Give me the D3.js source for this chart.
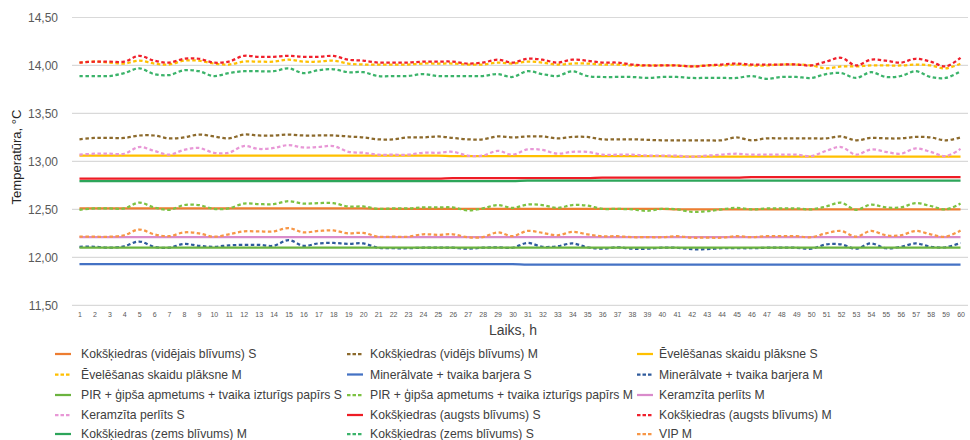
<!DOCTYPE html>
<html>
<head>
<meta charset="utf-8">
<script src="https://cdn.jsdelivr.net/npm/d3@7/dist/d3.min.js"></script>
<style>
  html, body { margin: 0; padding: 0; background: #fff; }
  svg { display: block; font-family: "Liberation Sans", Arial, sans-serif; }
</style>
</head>
<body>
<svg id="chart" width="970" height="440"></svg>
<script>
// Hours on the x axis
const hours = d3.range(1, 61);

// Y axis ticks
const yTicks = [11.5, 12.0, 12.5, 13.0, 13.5, 14.0, 14.5];

// Temperature series, °C, one value per hour
const videjaisS = [12.51,12.51,12.51,12.51,12.51,12.51,12.51,12.51,12.51,12.51,12.51,12.51,12.51,12.51,12.51,12.51,12.51,12.51,12.51,12.51,
  12.505,12.505,12.505,12.505,12.505,12.505,12.505,12.505,12.505,12.505,12.505,12.505,12.505,12.505,12.505,12.505,12.505,12.505,12.505,12.505,
  12.50,12.50,12.50,12.50,12.50,12.50,12.50,12.50,12.50,12.50,12.50,12.50,12.50,12.50,12.50,12.50,12.50,12.50,12.50,12.50];
const videjsM = [13.23,13.245,13.245,13.245,13.27,13.27,13.24,13.25,13.28,13.26,13.24,13.28,13.27,13.27,13.28,13.27,13.27,13.27,13.26,13.25,
  13.23,13.23,13.25,13.25,13.26,13.245,13.23,13.23,13.26,13.25,13.26,13.26,13.24,13.255,13.255,13.23,13.23,13.23,13.225,13.22,
  13.22,13.22,13.22,13.22,13.25,13.22,13.24,13.24,13.24,13.24,13.24,13.26,13.22,13.245,13.24,13.24,13.255,13.25,13.22,13.25];
const evelesanasS = [13.06,13.06,13.06,13.06,13.06,13.06,13.06,13.06,13.06,13.06,13.06,13.06,13.06,13.06,13.06,13.06,13.06,13.06,13.06,13.06,
  13.06,13.06,13.06,13.06,13.06,13.055,13.055,13.055,13.055,13.055,13.055,13.055,13.055,13.055,13.055,13.055,13.055,13.055,13.055,13.055,
  13.05,13.05,13.05,13.05,13.05,13.05,13.05,13.05,13.05,13.05,13.05,13.05,13.05,13.05,13.05,13.05,13.05,13.05,13.05,13.05];
const evelesanasM = [14.03,14.04,14.03,14.02,14.05,14.02,14.01,14.05,14.05,14.02,14.01,14.04,14.04,14.04,14.06,14.04,14.04,14.05,14.02,14.01,
  14.01,14.01,14.01,14.02,14.02,14.02,14.01,14.01,14.03,14.02,14.04,14.03,14.01,14.02,14.02,14.01,14.01,14.00,14.00,14.00,
  14.00,13.99,14.00,14.00,14.01,14.00,14.00,14.01,14.01,14.00,13.97,13.99,13.99,14.00,14.00,14.00,14.01,14.00,13.97,14.02];
const mineralvateS = [11.93,11.93,11.93,11.93,11.93,11.93,11.93,11.93,11.93,11.93,11.93,11.93,11.93,11.93,11.93,11.93,11.93,11.93,11.93,11.93,
  11.93,11.93,11.93,11.93,11.93,11.93,11.93,11.93,11.93,11.93,11.925,11.925,11.925,11.925,11.925,11.925,11.925,11.925,11.925,11.925,
  11.925,11.925,11.925,11.925,11.925,11.925,11.925,11.925,11.925,11.925,11.925,11.925,11.925,11.925,11.925,11.925,11.925,11.925,11.925,11.925];
const mineralvateM = [12.11,12.11,12.10,12.115,12.165,12.11,12.10,12.14,12.12,12.11,12.125,12.13,12.13,12.12,12.18,12.12,12.145,12.15,12.14,12.145,
  12.10,12.095,12.095,12.10,12.10,12.10,12.09,12.10,12.105,12.10,12.15,12.11,12.115,12.145,12.105,12.09,12.105,12.09,12.09,12.10,
  12.10,12.085,12.085,12.095,12.095,12.095,12.10,12.10,12.10,12.09,12.135,12.135,12.09,12.145,12.095,12.11,12.145,12.11,12.105,12.15];
const pirS = [12.10,12.10,12.10,12.10,12.10,12.10,12.10,12.10,12.10,12.10,12.10,12.10,12.10,12.10,12.10,12.10,12.10,12.10,12.10,12.10,
  12.10,12.10,12.10,12.10,12.10,12.10,12.10,12.10,12.10,12.10,12.10,12.10,12.10,12.10,12.10,12.10,12.10,12.10,12.10,12.10,
  12.10,12.10,12.10,12.10,12.10,12.10,12.10,12.10,12.10,12.10,12.10,12.10,12.10,12.10,12.10,12.10,12.10,12.10,12.10,12.10];
const pirM = [12.495,12.51,12.51,12.51,12.57,12.52,12.495,12.545,12.545,12.505,12.51,12.56,12.555,12.555,12.585,12.56,12.565,12.565,12.53,12.53,
  12.505,12.51,12.51,12.52,12.52,12.52,12.49,12.51,12.545,12.515,12.55,12.545,12.515,12.545,12.54,12.505,12.505,12.50,12.485,12.505,
  12.50,12.475,12.48,12.50,12.515,12.50,12.51,12.51,12.51,12.50,12.53,12.57,12.495,12.55,12.52,12.52,12.565,12.535,12.50,12.56];
const keramzitaM = [12.21,12.21,12.21,12.21,12.21,12.21,12.21,12.21,12.21,12.21,12.21,12.21,12.21,12.21,12.21,12.21,12.21,12.21,12.21,12.21,
  12.21,12.21,12.21,12.21,12.21,12.21,12.21,12.21,12.21,12.21,12.21,12.21,12.21,12.21,12.21,12.21,12.21,12.21,12.21,12.21,
  12.21,12.21,12.21,12.21,12.21,12.21,12.21,12.21,12.21,12.21,12.21,12.21,12.21,12.21,12.21,12.21,12.21,12.21,12.21,12.21];
const keramzitaS = [13.07,13.08,13.08,13.08,13.15,13.11,13.07,13.12,13.14,13.09,13.09,13.16,13.13,13.14,13.17,13.145,13.15,13.16,13.10,13.09,
  13.07,13.07,13.07,13.09,13.09,13.10,13.06,13.06,13.11,13.07,13.125,13.12,13.08,13.10,13.10,13.07,13.07,13.07,13.06,13.06,
  13.06,13.05,13.06,13.07,13.08,13.07,13.07,13.07,13.07,13.055,13.11,13.15,13.07,13.125,13.10,13.08,13.135,13.10,13.055,13.13];
const augstsS = [12.82,12.82,12.82,12.82,12.82,12.82,12.82,12.82,12.82,12.82,12.82,12.82,12.82,12.82,12.82,12.82,12.82,12.82,12.82,12.82,
  12.82,12.82,12.82,12.82,12.82,12.825,12.825,12.825,12.825,12.825,12.825,12.825,12.825,12.825,12.825,12.83,12.83,12.83,12.83,12.83,
  12.83,12.83,12.83,12.83,12.83,12.835,12.835,12.835,12.835,12.835,12.835,12.835,12.835,12.835,12.835,12.835,12.835,12.835,12.835,12.835];
const augstsM = [14.03,14.04,14.04,14.04,14.10,14.05,14.03,14.07,14.07,14.03,14.04,14.10,14.09,14.09,14.10,14.09,14.09,14.10,14.06,14.05,
  14.03,14.03,14.03,14.04,14.04,14.04,14.02,14.03,14.06,14.03,14.07,14.06,14.03,14.06,14.05,14.03,14.03,14.01,14.00,14.00,
  14.00,13.99,14.00,14.01,14.02,14.01,14.01,14.01,14.01,14.00,14.04,14.08,14.00,14.06,14.05,14.03,14.07,14.04,13.99,14.08];
const zemsM = [12.795,12.795,12.795,12.795,12.795,12.795,12.795,12.795,12.795,12.795,12.795,12.795,12.795,12.795,12.795,12.795,12.795,12.795,12.795,12.795,
  12.795,12.795,12.795,12.795,12.795,12.795,12.795,12.795,12.795,12.795,12.80,12.80,12.80,12.80,12.80,12.80,12.80,12.80,12.80,12.80,
  12.80,12.80,12.80,12.80,12.80,12.80,12.80,12.80,12.80,12.80,12.80,12.80,12.80,12.80,12.80,12.80,12.80,12.80,12.80,12.80];
const zemsS = [13.89,13.89,13.89,13.92,13.97,13.91,13.90,13.95,13.94,13.89,13.92,13.94,13.94,13.94,13.97,13.92,13.95,13.96,13.93,13.93,
  13.89,13.89,13.89,13.91,13.89,13.89,13.89,13.89,13.91,13.88,13.94,13.91,13.89,13.94,13.89,13.88,13.88,13.88,13.87,13.88,
  13.88,13.87,13.87,13.87,13.87,13.89,13.86,13.88,13.88,13.87,13.91,13.92,13.87,13.93,13.88,13.89,13.94,13.88,13.87,13.94];
const vipM = [12.215,12.215,12.215,12.23,12.29,12.24,12.22,12.26,12.25,12.215,12.24,12.27,12.27,12.27,12.305,12.26,12.275,12.28,12.25,12.255,
  12.215,12.215,12.215,12.24,12.235,12.24,12.21,12.21,12.26,12.22,12.275,12.255,12.23,12.265,12.24,12.22,12.22,12.21,12.21,12.21,
  12.22,12.205,12.205,12.205,12.22,12.21,12.22,12.22,12.22,12.21,12.25,12.275,12.215,12.275,12.23,12.23,12.275,12.24,12.215,12.28];

// Series list in legend order (drawing order too)
const series = [
  { name: "Kokšķiedras (vidējais blīvums) S", values: videjaisS, color: "#ED7D31", dashed: false },
  { name: "Kokšķiedras (vidējs blīvums) M", values: videjsM, color: "#8C6A2C", dashed: true },
  { name: "Ēvelēšanas skaidu plāksne S", values: evelesanasS, color: "#FFC000", dashed: false },
  { name: "Ēvelēšanas skaidu plāksne M", values: evelesanasM, color: "#FFC000", dashed: true },
  { name: "Minerālvate + tvaika barjera S", values: mineralvateS, color: "#4472C4", dashed: false },
  { name: "Minerālvate + tvaika barjera M", values: mineralvateM, color: "#2F5B9C", dashed: true },
  { name: "PIR + ģipša apmetums + tvaika izturīgs papīrs S", values: pirS, color: "#6BB33F", dashed: false },
  { name: "PIR + ģipša apmetums + tvaika izturīgs papīrs M", values: pirM, color: "#7CC242", dashed: true },
  { name: "Keramzīta perlīts M", values: keramzitaM, color: "#D98BCB", dashed: false },
  { name: "Keramzīta perlīts S", values: keramzitaS, color: "#E897D6", dashed: true },
  { name: "Kokšķiedras (augsts blīvums) S", values: augstsS, color: "#EE1C25", dashed: false },
  { name: "Kokšķiedras (augsts blīvums) M", values: augstsM, color: "#F0202C", dashed: true },
  { name: "Kokšķiedras (zems blīvums) M", values: zemsM, color: "#2DA55A", dashed: false },
  { name: "Kokšķiedras (zems blīvums) S", values: zemsS, color: "#3BB36A", dashed: true },
  { name: "VIP M", values: vipM, color: "#F79646", dashed: true }
];

const svg = d3.select("#chart");
const plot = { left: 72, right: 968, top: 17.5, bottom: 305.3 };

const x = d3.scalePoint().domain(hours).range([plot.left, plot.right]).padding(0.5);
const y = d3.scaleLinear().domain([11.5, 14.5]).range([plot.bottom, plot.top]);

// Horizontal gridlines
svg.append("g")
  .selectAll("line")
  .data(yTicks)
  .join("line")
  .attr("x1", plot.left).attr("x2", plot.right)
  .attr("y1", d => y(d)).attr("y2", d => y(d))
  .attr("stroke", "#d9d9d9").attr("stroke-width", 1.2);

// Y axis labels
const fmt = d => d3.format(".2f")(d).replace(".", ",");
const yAxis = svg.append("g")
  .attr("transform", `translate(${plot.left - 14},0)`)
  .call(d3.axisLeft(y).tickValues(yTicks).tickFormat(fmt).tickSize(0).tickPadding(0));
yAxis.select(".domain").remove();
yAxis.selectAll("text")
  .attr("font-family", "Liberation Sans, Arial, sans-serif")
  .attr("font-size", 12).attr("fill", "#595959");

// X axis labels
const xAxis = svg.append("g")
  .attr("transform", `translate(0,${plot.bottom})`)
  .call(d3.axisBottom(x).tickSize(0).tickPadding(7));
xAxis.select(".domain").remove();
xAxis.selectAll("text")
  .attr("font-family", "Liberation Sans, Arial, sans-serif")
  .attr("font-size", 7).attr("fill", "#595959");

// Axis titles
svg.append("text")
  .attr("x", 513).attr("y", 335)
  .attr("text-anchor", "middle")
  .attr("font-size", 14).attr("fill", "#404040")
  .text("Laiks, h");

svg.append("text")
  .attr("transform", `translate(21,157) rotate(-90)`)
  .attr("text-anchor", "middle")
  .attr("font-size", 13).attr("fill", "#262626")
  .text("Temperatūra, °C");

// Lines
const line = d3.line()
  .x((d, i) => x(hours[i]))
  .y(d => y(d))
  .curve(d3.curveCatmullRom.alpha(0.5));

svg.append("g")
  .selectAll("path")
  .data(series)
  .join("path")
  .attr("d", s => line(s.values))
  .attr("fill", "none")
  .attr("stroke", s => s.color)
  .attr("stroke-width", 2.25)
  .attr("stroke-dasharray", s => s.dashed ? "3.5,2.5" : null)
  .attr("stroke-linejoin", "round");

// Legend: three columns, five rows
const legendCols = [{ lx: 55, tx: 81 }, { lx: 347, tx: 370 }, { lx: 637, tx: 659 }];
const legendRowY = [354, 374.5, 395, 415, 434];
const legend = svg.append("g")
  .selectAll("g")
  .data(series)
  .join("g")
  .attr("transform", (s, i) => `translate(0,${legendRowY[Math.floor(i / 3)]})`);

legend.append("line")
  .attr("x1", (s, i) => legendCols[i % 3].lx)
  .attr("x2", (s, i) => legendCols[i % 3].lx + 16)
  .attr("y1", 0).attr("y2", 0)
  .attr("stroke", s => s.color)
  .attr("stroke-width", 2.25)
  .attr("stroke-dasharray", s => s.dashed ? "3.5,2" : null);

legend.append("text")
  .attr("x", (s, i) => legendCols[i % 3].tx)
  .attr("y", 4)
  .attr("font-size", 12.2).attr("fill", "#404040")
  .text(s => s.name);
</script>
</body>
</html>
